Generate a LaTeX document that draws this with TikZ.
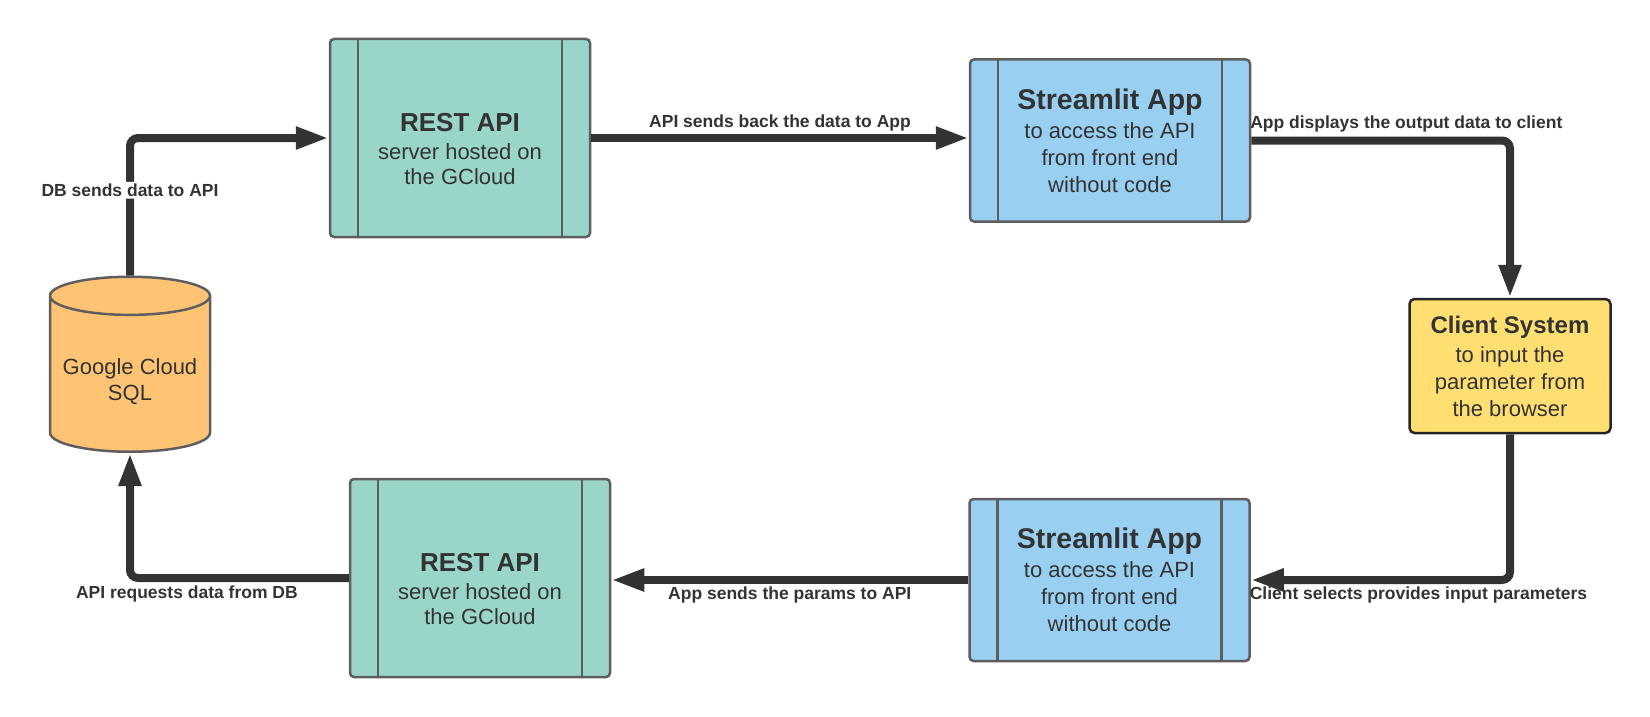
\documentclass[tikz,border=0pt]{standalone}
\usepackage{fontspec}
\setmainfont{Liberation Sans}
\usetikzlibrary{arrows.meta,positioning,shapes.geometric}
\definecolor{tealfill}{HTML}{9AD5CA}
\definecolor{bluefill}{HTML}{99D0F2}
\definecolor{dbfill}{HTML}{FFC374}
\definecolor{clientfill}{HTML}{FFDF71}
\definecolor{edgegray}{HTML}{5E5E5E}
\definecolor{inkgray}{HTML}{333333}

\begin{document}
\begin{tikzpicture}[x=1pt,y=-1pt,
      proc/.style={draw=edgegray,line width=2.5pt,rounded corners=4pt,align=center,
        text=inkgray,font=\fontsize{22}{27}\selectfont,
        path picture={\draw[edgegray,line width=2.5pt]
          ([xshift=28pt]path picture bounding box.north west) -- ([xshift=28pt]path picture bounding box.south west)
          ([xshift=-28pt]path picture bounding box.north east) -- ([xshift=-28pt]path picture bounding box.south east);}},
      api/.style={proc,fill=tealfill,minimum width=260pt,minimum height=198pt,font=\fontsize{22}{25}\selectfont},
      app/.style={proc,fill=bluefill,minimum width=280pt,minimum height=162pt},
      client/.style={draw=black!85,line width=2.5pt,rounded corners=5pt,fill=clientfill,align=center,
        text=inkgray,font=\fontsize{22}{27}\selectfont,minimum width=201pt,minimum height=134pt},
      dbnode/.style={cylinder,shape border rotate=90,aspect=0.27,draw=edgegray,fill=dbfill,line width=2.5pt,
        minimum width=160pt,minimum height=175pt,align=center,text=inkgray,font=\fontsize{22}{26}\selectfont},
      vect/.style={-{Triangle[length=33pt,width=21pt]},line width=8pt,draw=inkgray,rounded corners=8pt},
      note/.style={text=inkgray,font=\fontsize{17.5}{21}\selectfont\bfseries,inner sep=2pt}]
    \useasboundingbox (0,0) rectangle (1650,717);
    % boxes
    \node[dbnode,anchor=south] (db) at (130,453) {\rule{0pt}{24pt}Google Cloud\\SQL};
    \node[api] (api1) at (460,138) {\rule{0pt}{40.5pt}{\fontsize{26}{27}\selectfont\bfseries REST API}\\[3.5pt]
      server hosted on\\the GCloud};
    \node[app] (app1) at (1110,140.5) {{\fontsize{28.5}{27}\selectfont\bfseries Streamlit App}\\[2pt]
      to access the API\\from front end\\without code};
    \node[client] (client) at (1510,366) {{\fontsize{24}{27}\selectfont\bfseries Client System}\\[2pt]
      to input the\\parameter from\\the browser};
    \node[app] (app2) at (1109.5,580) {{\fontsize{28.5}{27}\selectfont\bfseries Streamlit App}\\[2pt]
      to access the API\\from front end\\without code};
    \node[api] (api2) at (480,578) {\rule{0pt}{40.5pt}{\fontsize{26}{27}\selectfont\bfseries REST API}\\[3.5pt]
      server hosted on\\the GCloud};
    % flow
    \draw[vect] (db.north) |- node[note,pos=0.31,fill=white] {DB sends data to API} (api1.west);
    \draw[vect] (api1.east) -- node[note,above=1pt] {API sends back the data to App} (api1.east -| app1.west);
    \draw[vect] (app1.east) -| node[note,pos=0,anchor=south west,above right=2pt and -7pt] {App displays the output data to client} (client.north);
    \draw[vect] (client.south) |- node[note,pos=1,anchor=north west,below right=1pt and -7pt] {Client selects provides input parameters} (app2.east);
    \draw[vect] (app2.west) -- node[note,below=1pt] {App sends the params to API} (app2.west -| api2.east);
    \draw[vect] (api2.west) -| node[note,pos=0.37,below=2pt] {API requests data from DB} (db.south);
  \end{tikzpicture}
\end{document}
